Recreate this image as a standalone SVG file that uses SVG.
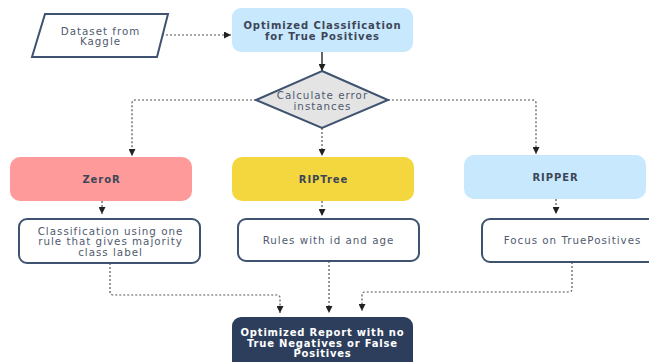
<svg xmlns="http://www.w3.org/2000/svg" width="649" height="362" viewBox="0 0 649 362">
<defs>
<marker id="ah" viewBox="0 0 8 8" refX="8" refY="4" markerWidth="7" markerHeight="7" markerUnits="userSpaceOnUse" orient="auto">
<path d="M0,0 L8,4 L0,8 Z" fill="#222"/>
</marker>
<style>
.dash{fill:none;stroke:#555;stroke-width:1.2;stroke-dasharray:2 2;}
.solid{fill:none;stroke:#333;stroke-width:1.5;}
.t{font-family:"DejaVu Sans","Liberation Sans",sans-serif;font-size:10.3px;letter-spacing:1px;fill:#4f5a6e;text-anchor:middle;}
.b{font-family:"DejaVu Sans","Liberation Sans",sans-serif;font-size:10px;letter-spacing:0.9px;font-weight:bold;fill:#3c4657;text-anchor:middle;}
.w{font-family:"DejaVu Sans","Liberation Sans",sans-serif;font-size:10px;letter-spacing:0.8px;font-weight:bold;fill:#ffffff;text-anchor:middle;}
.info{fill:#ffffff;stroke:#3f5370;stroke-width:2;}
</style>
</defs>
<rect width="649" height="362" fill="#ffffff"/>
<g id="connectors">
<path class="dash" d="M158,35 L231,35" marker-end="url(#ah)"/>
<path class="solid" d="M322,52 L322,71" marker-end="url(#ah)"/>
<path class="dash" d="M256,100 L135,100 Q132,100 132,103 L132,156" marker-end="url(#ah)"/>
<path class="dash" d="M322,128 L322,156" marker-end="url(#ah)"/>
<path class="dash" d="M388,100 L533,100 Q536,100 536,103 L536,154" marker-end="url(#ah)"/>
<path class="dash" d="M102,201 L102,214" marker-end="url(#ah)"/>
<path class="dash" d="M322,201 L322,216" marker-end="url(#ah)"/>
<path class="dash" d="M556,199 L556,214" marker-end="url(#ah)"/>
<path class="dash" d="M110,263 L110,292 Q110,295 113,295 L277,295 Q280,295 280,298 L280,313" marker-end="url(#ah)"/>
<path class="dash" d="M329,261 L329,313" marker-end="url(#ah)"/>
<path class="dash" d="M572,262 L572,289 Q572,292 569,292 L365,292 Q362,292 362,295 L362,311" marker-end="url(#ah)"/>
</g>
<g id="dataset">
<polygon points="45,14 168,14 157,57 32,57" fill="#ffffff" stroke="#3f5370" stroke-width="2"/>
<text class="t" x="100.5" y="34.5">Dataset from</text>
<text class="t" x="100.5" y="45">Kaggle</text>
</g>
<g id="optimized">
<rect x="232" y="8" width="181" height="44" rx="9" fill="#c8e8fd"/>
<text class="b" x="322.5" y="29">Optimized Classification</text>
<text class="b" x="322.5" y="39.5">for True Positives</text>
</g>
<g id="calc">
<polygon points="322,71 388,100 322,128 256,100" fill="#e4e4e4" stroke="#3f5370" stroke-width="2"/>
<text class="t" x="322.5" y="99">Calculate error</text>
<text class="t" x="322.5" y="109.5">instances</text>
</g>
<g id="zeror">
<rect x="10" y="157" width="182" height="44" rx="10" fill="#fe9a9a"/>
<text class="b" x="101.5" y="183">ZeroR</text>
</g>
<g id="riptree">
<rect x="232" y="157" width="182" height="44" rx="10" fill="#f4d63f"/>
<text class="b" x="323.5" y="183">RIPTree</text>
</g>
<g id="ripper">
<rect x="464" y="155" width="182" height="44" rx="10" fill="#c8e8fd"/>
<text class="b" x="555.5" y="181">RIPPER</text>
</g>
<g id="zeror-info">
<rect class="info" x="19" y="219" width="181" height="44" rx="8"/>
<text class="t" x="110.5" y="234.5">Classification using one</text>
<text class="t" x="110.5" y="245">rule that gives majority</text>
<text class="t" x="110.5" y="255.5">class label</text>
</g>
<g id="riptree-info">
<rect class="info" x="238" y="219" width="181" height="42" rx="8"/>
<text class="t" x="328.5" y="244">Rules with id and age</text>
</g>
<g id="ripper-info">
<rect class="info" x="482" y="219" width="181" height="43" rx="8"/>
<text class="t" x="572.5" y="244">Focus on TruePositives</text>
</g>
<g id="report">
<rect x="232" y="317" width="181" height="60" rx="9" fill="#2c3e5c"/>
<text class="w" x="322.5" y="336">Optimized Report with no</text>
<text class="w" x="322.5" y="346.5">True Negatives or False</text>
<text class="w" x="322.5" y="357">Positives</text>
</g>
</svg>
